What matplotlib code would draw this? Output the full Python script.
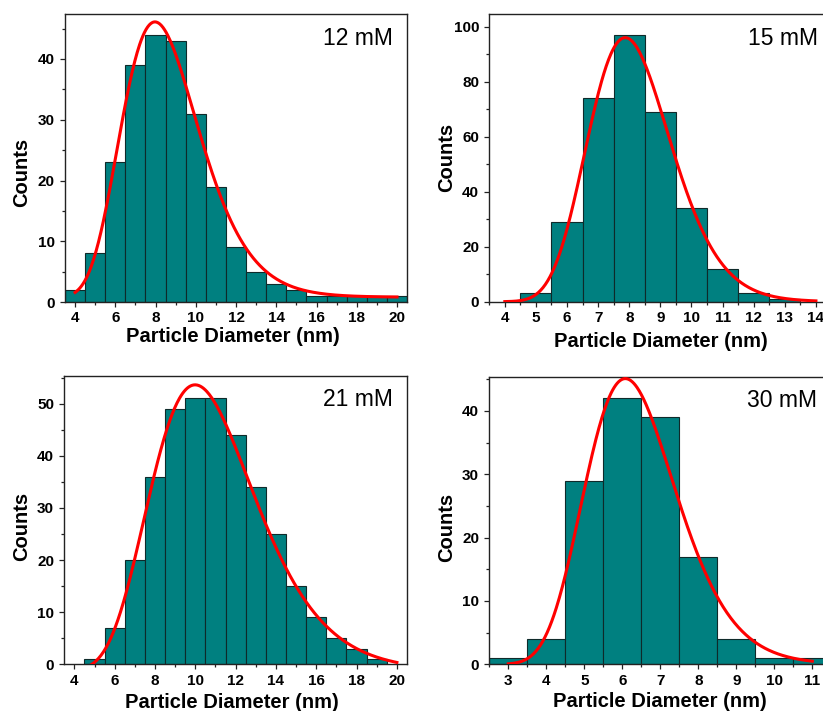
import matplotlib.pyplot as plt
import numpy as np
from matplotlib.ticker import MultipleLocator

plt.rcParams["font.family"] = ["Liberation Sans", "DejaVu Sans"]

# histogram bin centres (nm) and counts, one pair per sample
labels = ["12 mM", "15 mM", "21 mM", "30 mM"]

d_12 = [4, 5, 6, 7, 8, 9, 10, 11, 12, 13, 14, 15, 16, 17, 18, 19, 20]
n_12 = [2, 8, 23, 39, 44, 43, 31, 19, 9, 5, 3, 2, 1, 1, 1, 1, 1]

d_15 = [5, 6, 7, 8, 9, 10, 11, 12, 13]
n_15 = [3, 29, 74, 97, 69, 34, 12, 3, 1]

d_21 = [5, 6, 7, 8, 9, 10, 11, 12, 13, 14, 15, 16, 17, 18, 19]
n_21 = [1, 7, 20, 36, 49, 51, 51, 44, 34, 25, 15, 9, 5, 3, 1]

d_30 = [3, 4, 5, 6, 7, 8, 9, 10, 11]
n_30 = [1, 4, 29, 42, 39, 17, 4, 1, 1]

# log-normal fits: peak height, centre xc (nm), width w, offset y0
fit_12 = (45.3, 7.97, 0.242, 0.8)
fit_15 = (96.0, 7.87, 0.169, 0.0)
fit_21 = (54.8, 9.99, 0.260, -1.2)
fit_30 = (45.1, 6.08, 0.197, 0.0)
fit_range = [(4, 20), (4, 14), (4, 20), (3, 11)]


def lognormal(x, h, xc, w, y0):
    return y0 + h * np.exp(-np.log(x / xc) ** 2 / (2 * w**2))


fig = plt.figure(figsize=(8.23, 7.11), dpi=100)

panels = [
    dict(d=d_12, n=n_12, fit=fit_12, rect=[0.0790, 0.5752, 0.4156, 0.4051],
         xlim=(3.5, 20.5), ylim=(0, 47.4), xmaj=2, xmin=1, ymaj=10, ymin=5,
         ylab_y=0.45, xlab=(0.49, -0.088)),
    dict(d=d_15, n=n_15, fit=fit_15, rect=[0.5945, 0.5757, 0.4158, 0.4046],
         xlim=(3.5, 14.5), ylim=(0, 104.6), xmaj=1, xmin=0.5, ymaj=20, ymin=10,
         ylab_y=0.5, xlab=(0.5, -0.104)),
    dict(d=d_21, n=n_21, fit=fit_21, rect=[0.0781, 0.0657, 0.4164, 0.4055],
         xlim=(3.5, 20.5), ylim=(0, 55.3), xmaj=2, xmin=1, ymaj=10, ymin=5,
         ylab_y=0.477, xlab=(0.49, -0.098)),
    dict(d=d_30, n=n_30, fit=fit_30, rect=[0.5945, 0.0657, 0.4156, 0.4045],
         xlim=(2.5, 11.5), ylim=(0, 45.4), xmaj=1, xmin=0.5, ymaj=10, ymin=5,
         ylab_y=0.475, xlab=(0.5, -0.098)),
]

for i, p in enumerate(panels):
    ax = fig.add_axes(p["rect"])
    ax.bar(p["d"], p["n"], width=1.0, color="#008080", edgecolor="#0f2a2a",
           linewidth=0.8, zorder=2)
    x0, x1 = fit_range[i]
    xs = np.linspace(x0, x1, 400)
    ax.plot(xs, lognormal(xs, *p["fit"]), color="#ff0000", lw=2.2, zorder=3)

    ax.set_xlim(*p["xlim"])
    ax.set_ylim(*p["ylim"])
    ax.xaxis.set_major_locator(MultipleLocator(p["xmaj"]))
    ax.xaxis.set_minor_locator(MultipleLocator(p["xmin"]))
    ax.yaxis.set_major_locator(MultipleLocator(p["ymaj"]))
    ax.yaxis.set_minor_locator(MultipleLocator(p["ymin"]))
    ax.tick_params(which="major", direction="out", length=3.8, width=0.9,
                   pad=3, labelsize=11, color="#222222")
    ax.tick_params(which="minor", direction="out", length=2.2, width=0.9,
                   color="#222222")
    ax.tick_params(axis="y", pad=3.5)
    for t in ax.get_xticklabels() + ax.get_yticklabels():
        t.set_fontweight("bold")
    for s in ax.spines.values():
        s.set_linewidth(1.0)
        s.set_color("#222222")

    ax.set_xlabel("Particle Diameter (nm)", fontsize=14.5, fontweight="bold")
    ax.set_ylabel("Counts", fontsize=14.5, fontweight="bold")
    ax.xaxis.set_label_coords(*p["xlab"])
    ax.yaxis.set_label_coords(-0.098, p["ylab_y"])

    ax.annotate(labels[i], xy=(1, 1), xycoords="axes fraction",
                xytext=(-10, -9), textcoords="offset points",
                ha="right", va="top", fontsize=16.5)

fig.savefig("out.png", dpi=100)
